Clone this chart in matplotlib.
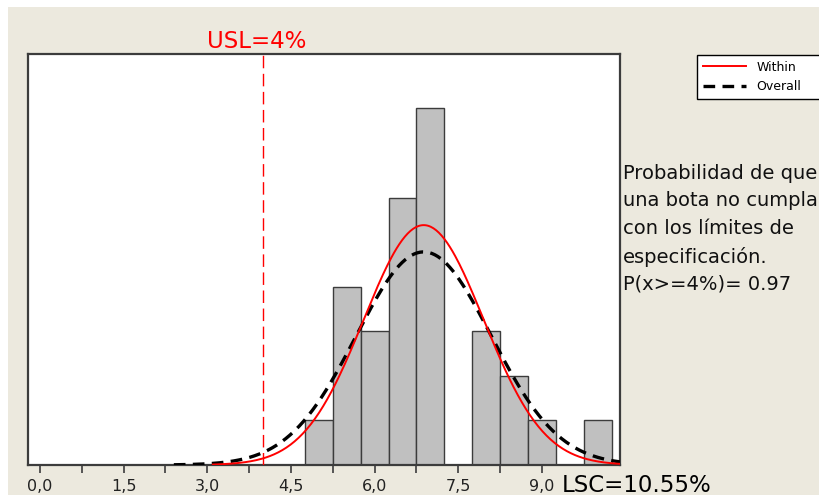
import matplotlib.pyplot as plt
import numpy as np
from matplotlib.patches import Rectangle

# histograma (% por bota)
centros = [5.0, 5.5, 6.0, 6.5, 7.0, 7.5, 8.0, 8.5, 9.0, 9.5, 10.0]
frecuencias = [1, 4, 3, 6, 8, 0, 3, 2, 1, 0, 1]
ancho_clase = 0.5

# ajuste normal
media = 6.88
sigma_within = 1.075
sigma_overall = 1.21
inicio_within = 3.1
inicio_overall = 2.4

usl = 4.0
ticks_x = [0.0, 1.5, 3.0, 4.5, 6.0, 7.5, 9.0]
etiquetas_x = ["0,0", "1,5", "3,0", "4,5", "6,0", "7,5", "9,0"]
texto_prob = ("Probabilidad de que\nuna bota no cumpla\ncon los límites de\n"
              "especificación.\nP(x>=4%)= 0.97")

fondo = "#ECE9DE"
gris = "#3C3C3C"

fig = plt.figure(figsize=(8.19, 4.95), dpi=100, facecolor="white")
fig.patches.append(Rectangle((8 / 819, 0), 1, 1 - 7 / 495, transform=fig.transFigure,
                             facecolor=fondo, edgecolor="none", zorder=-10))

ax = fig.add_axes([28 / 819, 1 - 465 / 495, (620 - 28) / 819, (465 - 54) / 495])
ax.set_facecolor("white")

ax.bar(centros, frecuencias, width=ancho_clase, color="#C0C0C0",
       edgecolor=gris, linewidth=1.0, zorder=2)

n = sum(frecuencias)
escala = n * ancho_clase
xw = np.linspace(inicio_within, 10.4, 300)
xo = np.linspace(inicio_overall, 10.4, 300)
y_w = escala / (sigma_within * np.sqrt(2 * np.pi)) * np.exp(-0.5 * ((xw - media) / sigma_within) ** 2)
y_o = escala / (sigma_overall * np.sqrt(2 * np.pi)) * np.exp(-0.5 * ((xo - media) / sigma_overall) ** 2)

ax.plot(xw, y_w, color="red", lw=1.4, label="Within", zorder=4)
ax.plot(xo, y_o, color="black", lw=2.4, dashes=(3.5, 2.2), label="Overall", zorder=3)

ax.axvline(usl, color="red", lw=1.0, dashes=(9, 4), zorder=5)

ax.set_xlim(-0.215, 10.40)
ax.set_ylim(0, 9.22)
ax.set_yticks([])
ax.set_xticks(ticks_x)
ax.set_xticklabels(etiquetas_x, fontsize=11.5, color="#222222")
ax.set_xticks([0.75, 2.25, 3.75, 5.25, 6.75, 8.25], minor=True)
ax.tick_params(axis="x", which="both", direction="out", length=6, width=1.2,
               color=gris, pad=4)
for s in ax.spines.values():
    s.set_color(gris)
    s.set_linewidth(1.6)

leg = fig.legend(loc="upper left", bbox_to_anchor=(697 / 819, 1 - 100 / 495, 140 / 819, 45 / 495),
                 mode="expand", borderaxespad=0, fontsize=9, handlelength=3.5,
                 handletextpad=0.8, labelspacing=0.55, borderpad=0.45, fancybox=False,
                 framealpha=1, edgecolor="black")
leg.get_frame().set_linewidth(1.0)

fig.text(257 / 819, 1 - 42 / 495, "USL=4%", color="red", fontsize=16.5,
         ha="center", va="center")
fig.text(562 / 819, 1 - 485 / 495, "LSC=10.55%", color="black", fontsize=16.5,
         ha="left", va="center")
fig.text(623 / 819, 1 - 229 / 495, texto_prob, color="#111111", fontsize=14,
         ha="left", va="center", linespacing=1.55)

fig.savefig("out.png", dpi=100, facecolor=fig.get_facecolor())
